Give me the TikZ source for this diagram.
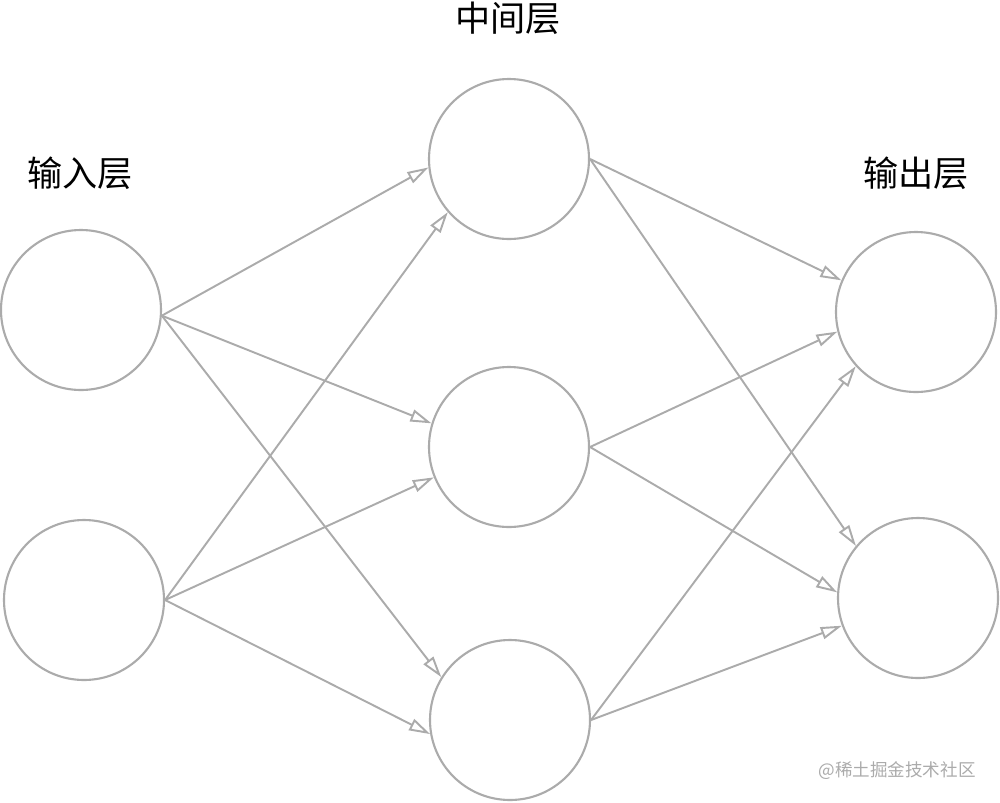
\documentclass[tikz,border=0pt]{standalone}
\usepackage{fontspec}
\newfontfamily\cjk{Noto Sans CJK SC}
\usepackage{tikz}
\usetikzlibrary{arrows.meta, positioning}
\definecolor{edgegray}{HTML}{ABABAB}
\tikzset{
  neuron/.style={circle, draw=edgegray, line width=1.2pt,
                 minimum size=3.2cm, inner sep=0pt},
  layerlabel/.style={font=\cjk\fontsize{20}{24}\selectfont, text=black},
  arrow/.style={-{Triangle[open, length=12pt, width=7pt, line width=1.1pt]},
                line width=1.1pt, draw=edgegray},
}

\begin{document}
\begin{tikzpicture}
  \useasboundingbox (0,0) rectangle (20,-16.04);
  % input layer
  \node [neuron] (i1) at (1.62,-6.20) {};
  \node [neuron] (i2) at (1.68,-12.00) {};
  % hidden layer
  \node [neuron] (m1) at (10.18,-3.18) {};
  \node [neuron] (m2) at (10.18,-8.94) {};
  \node [neuron] (m3) at (10.20,-14.40) {};
  % output layer
  \node [neuron] (o1) at (18.32,-6.24) {};
  \node [neuron] (o2) at (18.36,-11.96) {};

  \node [layerlabel] (lin) at (1.60,-3.46) {输入层};
  \node [layerlabel] (lmid) at (10.16,-0.36) {中间层};
  \node [layerlabel] (lout) at (18.32,-3.46) {输出层};

  \draw [arrow] (i1.-4) -- (m1.186);
  \draw [arrow] (i1.-4) -- (m2.163);
  \draw [arrow] (i1.-4) -- (m3.148);
  \draw [arrow] (i2.east) -- (m1.221);
  \draw [arrow] (i2.east) -- (m2.202);
  \draw [arrow] (i2.east) -- (m3.190);

  \draw [arrow] (m1.east) -- (o1.157);
  \draw [arrow] (m1.east) -- (o2.140);
  \draw [arrow] (m2.east) -- (o1.194);
  \draw [arrow] (m2.east) -- (o2.176);
  \draw [arrow] (m3.east) -- (o1.222);
  \draw [arrow] (m3.east) -- (o2.200);

  \node [font=\cjk\fontsize{10}{12}\selectfont, text=edgegray] (wm) at (17.94,-15.42) {@稀土掘金技术社区};
\end{tikzpicture}
\end{document}
